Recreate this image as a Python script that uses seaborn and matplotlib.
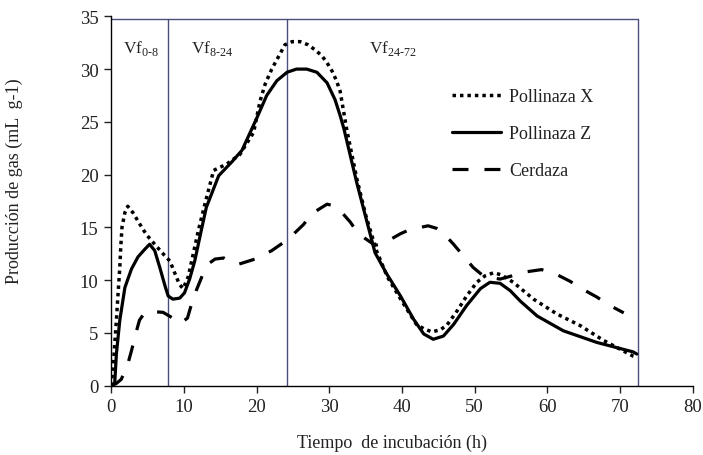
import numpy as np
import pandas as pd
import matplotlib
matplotlib.use("Agg")
import matplotlib.pyplot as plt
import seaborn as sns

# ---- data ----
x_polx = [0, 0.28, 0.5, 0.73, 0.96, 1.2, 1.33, 1.5, 1.9, 2.3, 3.0, 3.7, 4.4, 5.0, 6.0, 7.15,
          8.1, 8.8, 9.4, 9.9, 10.6, 11.3, 12.0, 12.9, 14.1, 15.9, 17.7, 19.6, 20.5, 21.2,
          22.1, 23.2, 23.9, 24.9, 26.0, 27.1, 28.1, 29.0, 29.7, 30.4, 31.0, 31.5, 32.4, 33.8,
          35.0, 36.5, 38.0, 40.0, 42.0, 43.0, 44.1, 45.3, 46.2, 47.6, 48.9, 50.3, 51.4, 52.6,
          53.7, 55.3, 58.1, 61.3, 64.5, 67.7, 71.8, 72.3]
y_polx = [0, 1.7, 3.9, 6.2, 8.7, 11.2, 13.1, 15.0, 16.4, 17.0, 16.4, 15.6, 14.8, 14.2, 13.4,
          12.5, 11.8, 10.6, 9.6, 9.2, 10.3, 12.5, 14.7, 17.2, 20.4, 21.0, 21.9, 24.0, 27.0,
          28.6, 30.0, 31.4, 32.3, 32.6, 32.6, 32.3, 31.8, 31.25, 30.6, 29.8, 28.9, 27.9, 24.3,
          19.6, 16.2, 12.8, 10.3, 8.0, 5.8, 5.4, 5.1, 5.3, 5.75, 7.1, 8.5, 9.8, 10.4, 10.7,
          10.5, 9.8, 8.2, 6.8, 5.7, 4.3, 2.8, 2.7]

x_polz = [0, 0.5, 0.73, 1.2, 1.9, 2.8, 3.7, 4.6, 5.3, 6.0, 6.7, 7.4, 7.85, 8.5, 9.45, 10.1,
          10.8, 11.5, 12.4, 13.1, 14.8, 16.6, 18.0, 20.0, 21.4, 22.8, 24.2, 25.5, 26.9, 28.3,
          29.7, 30.8, 31.5, 32.0, 33.8, 35.2, 36.3, 37.9, 39.8, 41.6, 43.0, 44.3, 45.7, 47.1,
          48.9, 50.8, 52.1, 53.5, 54.9, 56.3, 58.6, 62.2, 66.8, 71.8, 72.3]
y_polz = [0, 0.2, 3.0, 6.2, 9.3, 11.05, 12.2, 12.9, 13.4, 12.8, 11.2, 9.5, 8.5, 8.2, 8.3, 8.8,
          10.1, 11.8, 14.7, 16.9, 19.9, 21.2, 22.3, 25.3, 27.5, 28.9, 29.7, 30.0, 30.0, 29.7,
          28.7, 27.1, 25.6, 24.4, 19.2, 15.5, 12.6, 10.6, 8.5, 6.3, 4.9, 4.4, 4.7, 5.8, 7.6,
          9.2, 9.8, 9.7, 9.0, 8.0, 6.6, 5.2, 4.1, 3.2, 3.0]

x_cer = [0, 0.7, 1.4, 2.3, 2.8, 3.5, 3.9, 4.5, 5.1, 7.15, 8.75, 9.45, 10.1, 10.5, 11.05, 11.7,
         12.65, 13.3, 14.3, 15.5, 16.6, 17.5, 19.8, 22.1, 24.4, 26.5, 27.6, 29.7, 30.6, 31.5,
         32.9, 34.0, 36.3, 37.5, 39.8, 41.1, 43.6, 44.8, 45.5, 47.1, 48.2, 49.8, 51.2, 53.5,
         55.1, 57.2, 59.2, 61.1, 63.1, 64.7, 66.8, 68.6, 70.5]
y_cer = [0, 0.2, 0.6, 2.05, 3.3, 5.2, 6.2, 6.8, 7.05, 6.95, 6.3, 5.9, 6.2, 6.4, 7.7, 9.0,
         10.6, 11.5, 12.0, 12.1, 11.7, 11.5, 12.0, 12.8, 13.9, 15.3, 16.3, 17.2, 17.05, 16.6,
         15.5, 14.4, 13.3, 13.5, 14.4, 14.8, 15.15, 14.9, 14.6, 13.4, 12.5, 11.2, 10.4, 10.1,
         10.4, 10.8, 11.0, 10.6, 9.9, 9.2, 8.4, 7.6, 6.9]

series_labels = ["Pollinaza X", "Pollinaza Z", "Cerdaza"]
x_ticks = [0, 10, 20, 30, 40, 50, 60, 70, 80]
y_ticks = [0, 5, 10, 15, 20, 25, 30, 35]
period_bounds = [7.8, 24.25, 72.4]
period_top = 34.7
period_labels = [("Vf", "0-8", 1.6), ("Vf", "8-24", 11.0), ("Vf", "24-72", 35.5)]

# ---- style ----
sns.set_theme(style="white")
plt.rcParams["font.family"] = ["Liberation Serif", "DejaVu Serif"]
plt.rcParams["mathtext.fontset"] = "custom"
plt.rcParams["mathtext.rm"] = "Liberation Serif"

fig = plt.figure(figsize=(7.03, 4.56), dpi=100)
ax = fig.add_axes([0.158, 0.152, 0.8275, 0.810])

sns.lineplot(x=x_polx, y=y_polx, ax=ax, color="black", lw=2.5, sort=False,
             linestyle=(0, (1, 1.15)), label=series_labels[0])
sns.lineplot(x=x_polz, y=y_polz, ax=ax, color="black", lw=2.3, sort=False,
             label=series_labels[1])
sns.lineplot(x=x_cer, y=y_cer, ax=ax, color="black", lw=2.3, sort=False,
             linestyle=(0, (5, 5)), label=series_labels[2])

# period boxes
box_col = "#4a4e7c"
for b in period_bounds:
    ax.plot([b, b], [0, period_top], color=box_col, lw=1.0, zorder=1)
ax.plot([0, period_bounds[-1]], [period_top, period_top], color=box_col, lw=1.0, zorder=1)

for main, sub, xpos in period_labels:
    ax.text(xpos, 31.6, main + r"$_{\text{" + sub + r"}}$", fontsize=12.5, color="#222222",
            ha="left", va="baseline")

ax.set_xlim(0, 80)
ax.set_ylim(0, 35)
ax.set_xticks(x_ticks)
ax.set_yticks(y_ticks)
ax.tick_params(axis="both", labelsize=13.5, colors="#222222", direction="out",
               length=5, width=1, left=True, bottom=True, pad=4)
for s in ["top", "right"]:
    ax.spines[s].set_visible(False)
for s in ["left", "bottom"]:
    ax.spines[s].set_color("black")
    ax.spines[s].set_linewidth(1.0)

ax.set_xlabel("Tiempo  de incubación (h)", fontsize=13, color="#222222")
ax.set_ylabel("Producción de gas (mL  g-1)", fontsize=13, color="#222222")
ax.xaxis.set_label_coords(0.483, -0.131)
ax.yaxis.set_label_coords(-0.152, 0.557)

leg = ax.legend(loc="upper left", bbox_to_anchor=(0.643, 0.804), bbox_transform=fig.transFigure,
                frameon=False, fontsize=13, handlelength=2.7, handletextpad=0.45,
                labelspacing=1.1, borderpad=0, borderaxespad=0)
for t in leg.get_texts():
    t.set_color("#222222")

fig.savefig("out.png", dpi=100)
